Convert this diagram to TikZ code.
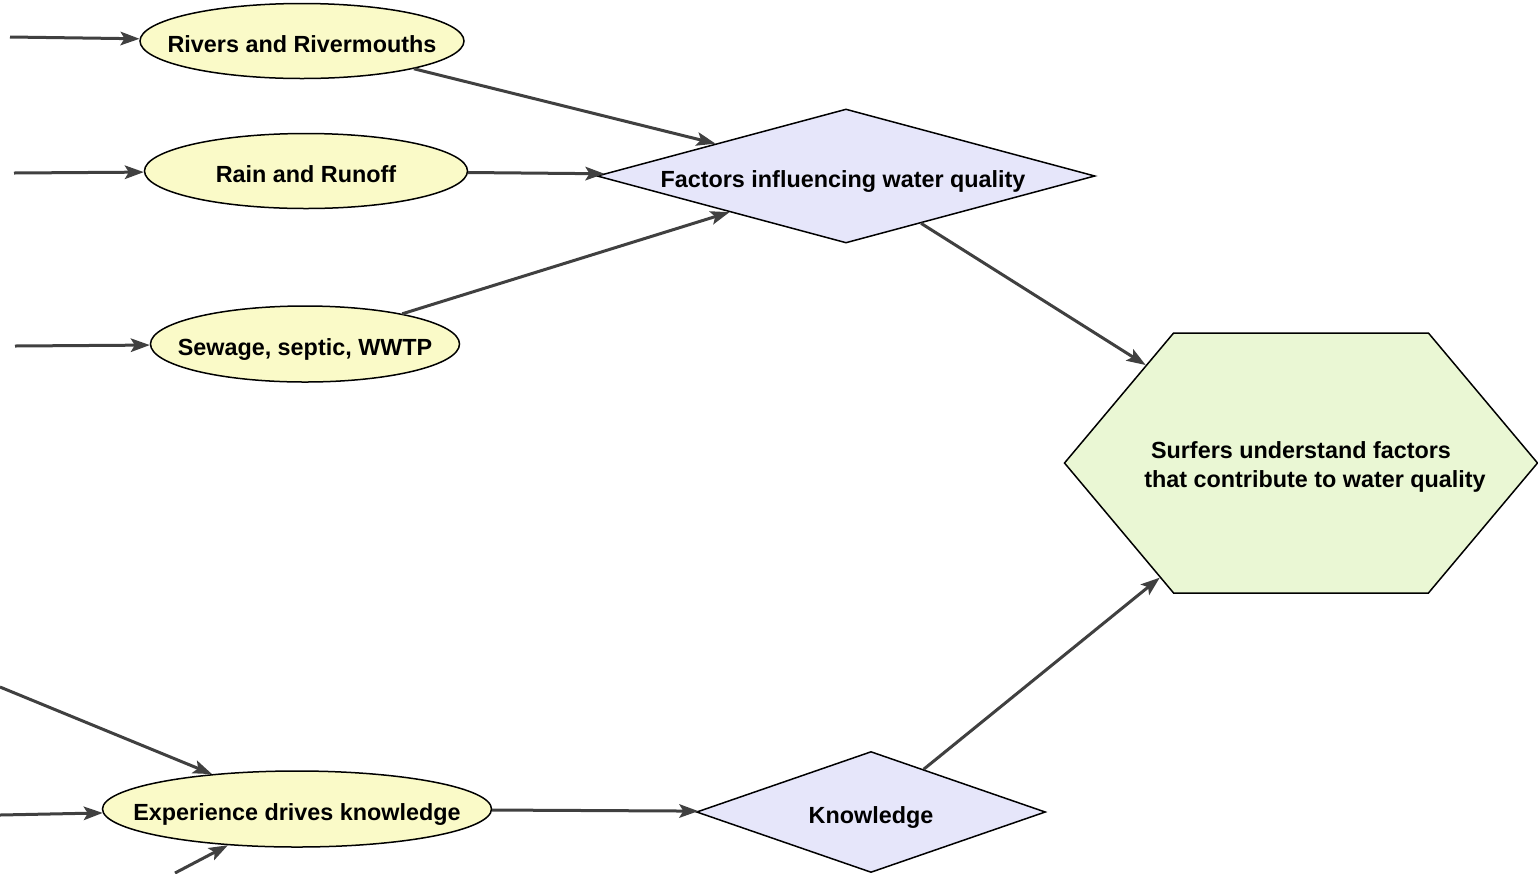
\documentclass[tikz,border=0pt]{standalone}
\usepackage{fontspec}
\setmainfont{Liberation Sans}
\usepackage{tikz}
\usetikzlibrary{shapes.geometric}
\usetikzlibrary{shapes.symbols}
\usetikzlibrary{arrows.meta}
\usepackage{xcolor}
\definecolor{ovalFill}{RGB}{250,250,200}
\definecolor{diaFill}{RGB}{230,230,250}
\definecolor{hexFill}{RGB}{234,247,212}
\definecolor{arrGray}{RGB}{64,64,64}
\def\px{0.02cm}
\def\fScale{\fontsize{13.3}{17}\selectfont\bfseries}
\def\lineThickness{(1.5*\px)}
\def\arrThickness{(3*\px)}
\def\noWid#1{\makebox[0pt]{#1}}
\tikzset{oval/.style={ellipse,draw=black,fill=ovalFill,line width=\lineThickness,inner sep=0,font=\fScale,text height=13pt,text depth=0pt}}
\tikzset{dia/.style={diamond,draw=black,fill=diaFill,line width=\lineThickness,inner sep=0,font=\fScale,text height=13pt,text depth=0pt}}
\tikzset{hexa/.style={signal,signal to=east and west,signal pointer angle=100,draw=black,fill=hexFill,line width=\lineThickness,inner sep=0,font=\fScale}}
\tikzset{arr/.style={arrGray,line width=\arrThickness,-{Stealth[length=0.38cm,width=0.27cm,inset=0.08cm]}}}

\begin{document}
\begin{tikzpicture}[x=\px,y=-\px]\useasboundingbox (0,0) rectangle (1538,873);
\node[oval,minimum width=324*\px,minimum height=75*\px] (riv) at (302,41) {\noWid{Rivers and Rivermouths}};
\node[oval,minimum width=323*\px,minimum height=75*\px] (rain) at (306,171) {\noWid{Rain and Runoff}};
\node[oval,minimum width=309*\px,minimum height=76*\px] (sew) at (305,344) {\noWid{Sewage, septic, WWTP}};
\node[oval,minimum width=389*\px,minimum height=76*\px] (exp) at (297,809) {\noWid{Experience drives knowledge}};
\node[dia,minimum width=498*\px,minimum height=134*\px] (fac) at (846,176) {\noWid{\hspace{-0.12cm}Factors influencing water quality}};
\node[dia,minimum width=349*\px,minimum height=121*\px] (know) at (871,812) {\noWid{Knowledge}};
\node[hexa,minimum width=473*\px,minimum height=260*\px] (surf) at (1301,463) {\noWid{\begin{tabular}{c}\rule{0pt}{16.5pt}Surfers understand factors\\ \hspace*{0.56cm}that contribute to water quality\end{tabular}}};
\coordinate (inRiv) at (10,37);\coordinate (inRain) at (14,173);\coordinate (inSew) at (15,346);
\coordinate (inExpA) at (0,687);\coordinate (inExpB) at (0,815);\coordinate (inExpC) at (175,873);
\foreach\a/\b in {inRiv/riv,inRain/rain,inSew/sew,inExpA/exp,inExpB/exp,inExpC/exp,riv/fac,rain/fac,sew/fac,fac/surf,exp/know,know/surf}{\draw[arr] (\a)--(\b);};
\end{tikzpicture}
\end{document}
